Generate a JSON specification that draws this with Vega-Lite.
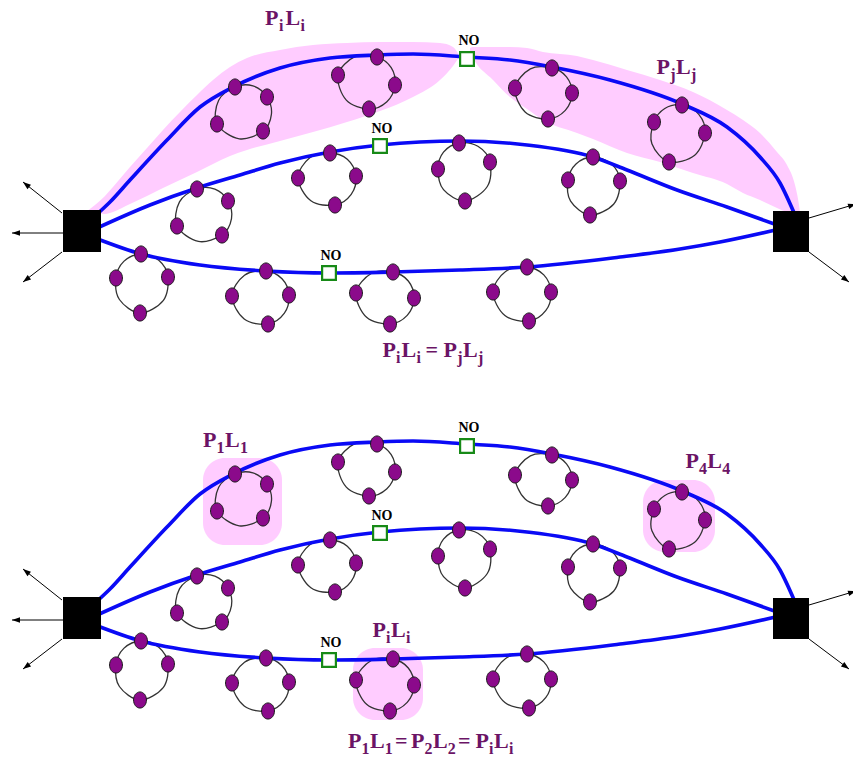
{
  "$schema": "https://vega.github.io/schema/vega-lite/v6.json",
  "background": "white",
  "padding": 0,
  "spacing": 0,
  "config": {"view": {"stroke": null}, "axis": {"disable": true}},
  "datasets": {
    "curves": [
      {"c":"t","x":95,"y":216},{"c":"t","x":110,"y":202},{"c":"t","x":130,"y":180},{"c":"t","x":167,"y":140},{"c":"t","x":200,"y":107},{"c":"t","x":233,"y":87},{"c":"t","x":280,"y":68},{"c":"t","x":330,"y":58},{"c":"t","x":377,"y":55},{"c":"t","x":413,"y":54},{"c":"t","x":467,"y":57},{"c":"t","x":510,"y":60},{"c":"t","x":552,"y":67},{"c":"t","x":610,"y":80},{"c":"t","x":682,"y":104},{"c":"t","x":727,"y":127},{"c":"t","x":760,"y":157},{"c":"t","x":780,"y":183},{"c":"t","x":795,"y":215},
      {"c":"m","x":95,"y":229},{"c":"m","x":150,"y":205},{"c":"m","x":197,"y":188},{"c":"m","x":240,"y":175},{"c":"m","x":280,"y":163},{"c":"m","x":330,"y":152},{"c":"m","x":380,"y":145},{"c":"m","x":460,"y":141},{"c":"m","x":527,"y":145},{"c":"m","x":593,"y":157},{"c":"m","x":627,"y":170},{"c":"m","x":677,"y":190},{"c":"m","x":727,"y":207},{"c":"m","x":780,"y":226},
      {"c":"b","x":95,"y":238},{"c":"b","x":141,"y":254},{"c":"b","x":200,"y":265},{"c":"b","x":266,"y":271},{"c":"b","x":329,"y":273},{"c":"b","x":393,"y":272},{"c":"b","x":460,"y":270},{"c":"b","x":527,"y":267},{"c":"b","x":620,"y":257},{"c":"b","x":680,"y":249},{"c":"b","x":720,"y":242},{"c":"b","x":780,"y":229}
    ],
    "loops": [
      {"l":"A","k":0,"x":235,"y":87},{"l":"A","k":1,"x":252.9,"y":85.9},{"l":"A","k":2,"x":267,"y":97},{"l":"A","k":3,"x":271.4,"y":114.3},{"l":"A","k":4,"x":263,"y":131},{"l":"A","k":5,"x":239.3,"y":138.8},{"l":"A","k":6,"x":217,"y":124},{"l":"A","k":7,"x":218.7,"y":100.3},
      {"l":"B","k":0,"x":377,"y":57},{"l":"B","k":1,"x":391.2,"y":67.7},{"l":"B","k":2,"x":395,"y":85},{"l":"B","k":3,"x":386.9,"y":101.7},{"l":"B","k":4,"x":369,"y":109},{"l":"B","k":5,"x":346.3,"y":100.1},{"l":"B","k":6,"x":338,"y":75},{"l":"B","k":7,"x":354.9,"y":56.7},
      {"l":"H","k":0,"x":552,"y":68},{"l":"H","k":1,"x":566.5,"y":76.8},{"l":"H","k":2,"x":572,"y":93},{"l":"H","k":3,"x":565.3,"y":110.4},{"l":"H","k":4,"x":548,"y":119},{"l":"H","k":5,"x":525.1,"y":112.0},{"l":"H","k":6,"x":515,"y":88},{"l":"H","k":7,"x":530.4,"y":68.9},
      {"l":"I","k":0,"x":682,"y":105},{"l":"I","k":1,"x":698.8,"y":114.3},{"l":"I","k":2,"x":705,"y":133},{"l":"I","k":3,"x":694.7,"y":155.2},{"l":"I","k":4,"x":669,"y":162},{"l":"I","k":5,"x":651.9,"y":143.8},{"l":"I","k":6,"x":654,"y":122},{"l":"I","k":7,"x":664.8,"y":108.5},
      {"l":"D","k":0,"x":197,"y":189},{"l":"D","k":1,"x":214.9,"y":189.2},{"l":"D","k":2,"x":228,"y":201},{"l":"D","k":3,"x":231.5,"y":218.7},{"l":"D","k":4,"x":222,"y":235},{"l":"D","k":5,"x":198.4,"y":241.4},{"l":"D","k":6,"x":177,"y":226},{"l":"D","k":7,"x":179.5,"y":201.9},
      {"l":"C","k":0,"x":330,"y":153},{"l":"C","k":1,"x":347.3,"y":159.3},{"l":"C","k":2,"x":356,"y":176},{"l":"C","k":3,"x":351.2,"y":194.3},{"l":"C","k":4,"x":335,"y":205},{"l":"C","k":5,"x":310.9,"y":200.8},{"l":"C","k":6,"x":298,"y":178},{"l":"C","k":7,"x":309.8,"y":157.8},
      {"l":"J","k":0,"x":459,"y":143},{"l":"J","k":1,"x":477.9,"y":146.3},{"l":"J","k":2,"x":490,"y":162},{"l":"J","k":3,"x":487.3,"y":186.5},{"l":"J","k":4,"x":465,"y":201},{"l":"J","k":5,"x":443.5,"y":189.7},{"l":"J","k":6,"x":438,"y":169},{"l":"J","k":7,"x":443.5,"y":152.2},
      {"l":"K","k":0,"x":593,"y":157},{"l":"K","k":1,"x":611.0,"y":163.6},{"l":"K","k":2,"x":620,"y":181},{"l":"K","k":3,"x":613.6,"y":204.2},{"l":"K","k":4,"x":590,"y":215},{"l":"K","k":5,"x":570.6,"y":201.1},{"l":"K","k":6,"x":568,"y":180},{"l":"K","k":7,"x":576.0,"y":163.9},
      {"l":"E","k":0,"x":141,"y":254},{"l":"E","k":1,"x":158.8,"y":260.3},{"l":"E","k":2,"x":168,"y":277},{"l":"E","k":3,"x":163.2,"y":300.6},{"l":"E","k":4,"x":140,"y":313},{"l":"E","k":5,"x":119.4,"y":299.5},{"l":"E","k":6,"x":116,"y":278},{"l":"E","k":7,"x":123.8,"y":261.4},
      {"l":"F","k":0,"x":266,"y":271},{"l":"F","k":1,"x":282.0,"y":278.8},{"l":"F","k":2,"x":289,"y":295},{"l":"F","k":3,"x":284.4,"y":313.2},{"l":"F","k":4,"x":268,"y":324},{"l":"F","k":5,"x":244.2,"y":319.0},{"l":"F","k":6,"x":232,"y":296},{"l":"F","k":7,"x":244.5,"y":275.2},
      {"l":"G","k":0,"x":393,"y":272},{"l":"G","k":1,"x":408.3,"y":281.0},{"l":"G","k":2,"x":414,"y":298},{"l":"G","k":3,"x":407.2,"y":315.4},{"l":"G","k":4,"x":390,"y":324},{"l":"G","k":5,"x":366.6,"y":317.3},{"l":"G","k":6,"x":356,"y":293},{"l":"G","k":7,"x":371.2,"y":273.5},
      {"l":"L","k":0,"x":527,"y":267},{"l":"L","k":1,"x":543.8,"y":274.9},{"l":"L","k":2,"x":551,"y":292},{"l":"L","k":3,"x":545.9,"y":310.4},{"l":"L","k":4,"x":529,"y":321},{"l":"L","k":5,"x":504.9,"y":315.5},{"l":"L","k":6,"x":493,"y":292},{"l":"L","k":7,"x":505.6,"y":271.4}
    ],
    "boxes": [
      {"x":63,"x2":101,"y":210,"y2":252},
      {"x":773,"x2":809,"y":211,"y2":252}
    ],
    "arrows": [
      {"x":62,"y":213,"x2":23,"y2":182},
      {"x":63,"y":233,"x2":12,"y2":233},
      {"x":62,"y":252,"x2":23,"y2":282},
      {"x":809,"y":218,"x2":856,"y2":204},
      {"x":809,"y":252,"x2":849,"y2":282}
    ],
    "heads": [
      {"x":26.1,"y":184.5,"a":308.5},
      {"x":16,"y":233,"a":270},
      {"x":26.2,"y":279.6,"a":232.4},
      {"x":852.2,"y":205.2,"a":73},
      {"x":845.8,"y":279.6,"a":127.6}
    ],
    "nos": [
      {"x":467,"y":59},{"x":380,"y":146},{"x":329,"y":273}
    ],
    "nolabels": [
      {"x":469,"y":45,"t":"NO"},{"x":382,"y":133,"t":"NO"},{"x":331,"y":260,"t":"NO"}
    ],
    "pinkTop": [
      {"b":"L","x":86,"y":212,"y2":212},{"b":"L","x":95,"y":205,"y2":213},{"b":"L","x":105,"y":196,"y2":214},{"b":"L","x":113,"y":187,"y2":212},{"b":"L","x":130,"y":167,"y2":204},{"b":"L","x":147,"y":148,"y2":196},{"b":"L","x":163,"y":130,"y2":188},{"b":"L","x":180,"y":112,"y2":180},{"b":"L","x":197,"y":95,"y2":172},{"b":"L","x":213,"y":80,"y2":164},{"b":"L","x":230,"y":67,"y2":156},{"b":"L","x":247,"y":58,"y2":150},{"b":"L","x":280,"y":50,"y2":141},{"b":"L","x":313,"y":45,"y2":132},{"b":"L","x":347,"y":43,"y2":122},{"b":"L","x":380,"y":42,"y2":111},{"b":"L","x":413,"y":42,"y2":97},{"b":"L","x":440,"y":43,"y2":80},{"b":"L","x":453,"y":47,"y2":66},{"b":"L","x":459,"y":55,"y2":57},
      {"b":"R","x":470,"y":48,"y2":52},{"b":"R","x":473,"y":47,"y2":58},{"b":"R","x":493,"y":47,"y2":80},{"b":"R","x":510,"y":47,"y2":97},{"b":"R","x":527,"y":48,"y2":109},{"b":"R","x":543,"y":52,"y2":120},{"b":"R","x":577,"y":56,"y2":133},{"b":"R","x":593,"y":60,"y2":139},{"b":"R","x":627,"y":70,"y2":153},{"b":"R","x":660,"y":80,"y2":162},{"b":"R","x":693,"y":92,"y2":173},{"b":"R","x":727,"y":110,"y2":184},{"b":"R","x":743,"y":120,"y2":193},{"b":"R","x":760,"y":133,"y2":200},{"b":"R","x":777,"y":152,"y2":208},{"b":"R","x":787,"y":165,"y2":212},{"b":"R","x":795,"y":185,"y2":214},{"b":"R","x":799,"y":205,"y2":214},{"b":"R","x":800,"y":213,"y2":214}
    ],
    "pinkBottom": [
      {"x":203,"x2":282,"y":71,"y2":158},
      {"x":643,"x2":715,"y":93,"y2":165},
      {"x":353,"x2":423,"y":261,"y2":333}
    ],
    "textTop": [
      {"t":"P","x":265,"y":25,"r":"m"},{"t":"i","x":279,"y":31,"r":"s"},{"t":"L","x":285.5,"y":25,"r":"m"},{"t":"i","x":300.5,"y":31,"r":"s"},
      {"t":"P","x":656.5,"y":74,"r":"m"},{"t":"j","x":670.2,"y":80,"r":"s"},{"t":"L","x":676,"y":74,"r":"m"},{"t":"j","x":691,"y":80,"r":"s"},
      {"t":"P","x":382.5,"y":357,"r":"m"},{"t":"i","x":396,"y":363,"r":"s"},{"t":"L","x":401.5,"y":357,"r":"m"},{"t":"i","x":416.5,"y":363,"r":"s"},{"t":"=","x":425.5,"y":357,"r":"m"},{"t":"P","x":443.5,"y":357,"r":"m"},{"t":"j","x":457.2,"y":363,"r":"s"},{"t":"L","x":463,"y":357,"r":"m"},{"t":"j","x":478,"y":363,"r":"s"}
    ],
    "textBottom": [
      {"t":"P","x":203,"y":60,"r":"m"},{"t":"1","x":216.6,"y":66,"r":"s"},{"t":"L","x":225,"y":60,"r":"m"},{"t":"1","x":240,"y":66,"r":"s"},
      {"t":"P","x":685.5,"y":81,"r":"m"},{"t":"4","x":699.1,"y":87,"r":"s"},{"t":"L","x":707.3,"y":81,"r":"m"},{"t":"4","x":722.2,"y":87,"r":"s"},
      {"t":"P","x":372.5,"y":250,"r":"m"},{"t":"i","x":386.1,"y":256,"r":"s"},{"t":"L","x":391,"y":250,"r":"m"},{"t":"i","x":406,"y":256,"r":"s"},
      {"t":"P","x":348,"y":361,"r":"m"},{"t":"1","x":361.6,"y":367,"r":"s"},{"t":"L","x":369.9,"y":361,"r":"m"},{"t":"1","x":384.8,"y":367,"r":"s"},{"t":"=","x":395,"y":361,"r":"m"},{"t":"P","x":411,"y":361,"r":"m"},{"t":"2","x":424.6,"y":367,"r":"s"},{"t":"L","x":432.9,"y":361,"r":"m"},{"t":"2","x":447.8,"y":367,"r":"s"},{"t":"=","x":458,"y":361,"r":"m"},{"t":"P","x":475.5,"y":361,"r":"m"},{"t":"i","x":489.1,"y":367,"r":"s"},{"t":"L","x":494,"y":361,"r":"m"},{"t":"i","x":509,"y":367,"r":"s"}
    ]
  },
  "vconcat": [
    {
      "width": 853,
      "height": 387,
      "encoding": {
        "x": {"field":"x","type":"quantitative","axis":null,"scale":{"domain":[0,853],"nice":false,"zero":false}},
        "y": {"field":"y","type":"quantitative","axis":null,"scale":{"domain":[0,387],"nice":false,"zero":false,"reverse":true}}
      },
      "layer": [
        {"data":{"name":"pinkTop"},"mark":{"type":"area","color":"#FFCCFF","interpolate":"monotone","orient":"vertical","clip":true},"encoding":{"y2":{"field":"y2"},"detail":{"field":"b"}}},
        {"data":{"name":"loops"},"mark":{"type":"line","interpolate":"cardinal-closed","color":"#333333","strokeWidth":1.3,"clip":true},"encoding":{"detail":{"field":"l"},"order":{"field":"k","type":"quantitative"}}},
        {"data":{"name":"curves"},"mark":{"type":"line","interpolate":"monotone","color":"#0A0AF5","strokeWidth":3.6,"clip":true},"encoding":{"detail":{"field":"c"}}},
        {"data":{"name":"loops"},"transform":[{"filter":"datum.k % 2 == 0"}],"mark":{"type":"point","shape":"M0,-1A0.8,1,0,1,1,0,1A0.8,1,0,1,1,0,-1Z","size":260,"filled":true,"fill":"#8B0A8B","stroke":"#1A1A1A","strokeWidth":1,"opacity":1,"clip":true}},
        {"data":{"name":"boxes"},"mark":{"type":"rect","color":"#000000","clip":true},"encoding":{"x2":{"field":"x2"},"y2":{"field":"y2"}}},
        {"data":{"name":"nos"},"mark":{"type":"point","shape":"square","size":190,"filled":true,"fill":"#FFFFFF","stroke":"#178A17","strokeWidth":2.2,"opacity":1,"clip":true}},
        {"data":{"name":"nolabels"},"mark":{"type":"text","font":"Liberation Serif","fontWeight":"bold","fontSize":14,"color":"#000000","align":"center","baseline":"alphabetic","clip":true},"encoding":{"text":{"field":"t"}}},
        {"data":{"name":"arrows"},"mark":{"type":"rule","color":"#000000","strokeWidth":1,"clip":true},"encoding":{"x2":{"field":"x2"},"y2":{"field":"y2"}}},
        {"data":{"name":"heads"},"mark":{"type":"point","shape":"M0,-1L0.7,1L-0.7,1Z","size":64,"filled":true,"color":"#000000","opacity":1,"clip":true},"encoding":{"angle":{"field":"a","type":"quantitative","scale":null}}},
        {"data":{"name":"textTop"},"transform":[{"filter":"datum.r == 'm'"}],"mark":{"type":"text","font":"Liberation Serif","fontWeight":"bold","fontSize":22,"color":"#6B1466","align":"left","baseline":"alphabetic","clip":true},"encoding":{"text":{"field":"t"}}},
        {"data":{"name":"textTop"},"transform":[{"filter":"datum.r == 's'"}],"mark":{"type":"text","font":"Liberation Serif","fontWeight":"bold","fontSize":16,"color":"#6B1466","align":"left","baseline":"alphabetic","clip":true},"encoding":{"text":{"field":"t"}}}
      ]
    },
    {
      "width": 853,
      "height": 373,
      "encoding": {
        "x": {"field":"x","type":"quantitative","axis":null,"scale":{"domain":[0,853],"nice":false,"zero":false}},
        "y": {"field":"y","type":"quantitative","axis":null,"scale":{"domain":[0,373],"nice":false,"zero":false,"reverse":true}}
      },
      "layer": [
        {"data":{"name":"pinkBottom"},"mark":{"type":"rect","color":"#FFCCFF","cornerRadius":22,"clip":true},"encoding":{"x2":{"field":"x2"},"y2":{"field":"y2"}}},
        {"data":{"name":"loops"},"mark":{"type":"line","interpolate":"cardinal-closed","color":"#333333","strokeWidth":1.3,"clip":true},"encoding":{"detail":{"field":"l"},"order":{"field":"k","type":"quantitative"}}},
        {"data":{"name":"curves"},"mark":{"type":"line","interpolate":"monotone","color":"#0A0AF5","strokeWidth":3.6,"clip":true},"encoding":{"detail":{"field":"c"}}},
        {"data":{"name":"loops"},"transform":[{"filter":"datum.k % 2 == 0"}],"mark":{"type":"point","shape":"M0,-1A0.8,1,0,1,1,0,1A0.8,1,0,1,1,0,-1Z","size":260,"filled":true,"fill":"#8B0A8B","stroke":"#1A1A1A","strokeWidth":1,"opacity":1,"clip":true}},
        {"data":{"name":"boxes"},"mark":{"type":"rect","color":"#000000","clip":true},"encoding":{"x2":{"field":"x2"},"y2":{"field":"y2"}}},
        {"data":{"name":"nos"},"mark":{"type":"point","shape":"square","size":190,"filled":true,"fill":"#FFFFFF","stroke":"#178A17","strokeWidth":2.2,"opacity":1,"clip":true}},
        {"data":{"name":"nolabels"},"mark":{"type":"text","font":"Liberation Serif","fontWeight":"bold","fontSize":14,"color":"#000000","align":"center","baseline":"alphabetic","clip":true},"encoding":{"text":{"field":"t"}}},
        {"data":{"name":"arrows"},"mark":{"type":"rule","color":"#000000","strokeWidth":1,"clip":true},"encoding":{"x2":{"field":"x2"},"y2":{"field":"y2"}}},
        {"data":{"name":"heads"},"mark":{"type":"point","shape":"M0,-1L0.7,1L-0.7,1Z","size":64,"filled":true,"color":"#000000","opacity":1,"clip":true},"encoding":{"angle":{"field":"a","type":"quantitative","scale":null}}},
        {"data":{"name":"textBottom"},"transform":[{"filter":"datum.r == 'm'"}],"mark":{"type":"text","font":"Liberation Serif","fontWeight":"bold","fontSize":22,"color":"#6B1466","align":"left","baseline":"alphabetic","clip":true},"encoding":{"text":{"field":"t"}}},
        {"data":{"name":"textBottom"},"transform":[{"filter":"datum.r == 's'"}],"mark":{"type":"text","font":"Liberation Serif","fontWeight":"bold","fontSize":16,"color":"#6B1466","align":"left","baseline":"alphabetic","clip":true},"encoding":{"text":{"field":"t"}}}
      ]
    }
  ]
}
